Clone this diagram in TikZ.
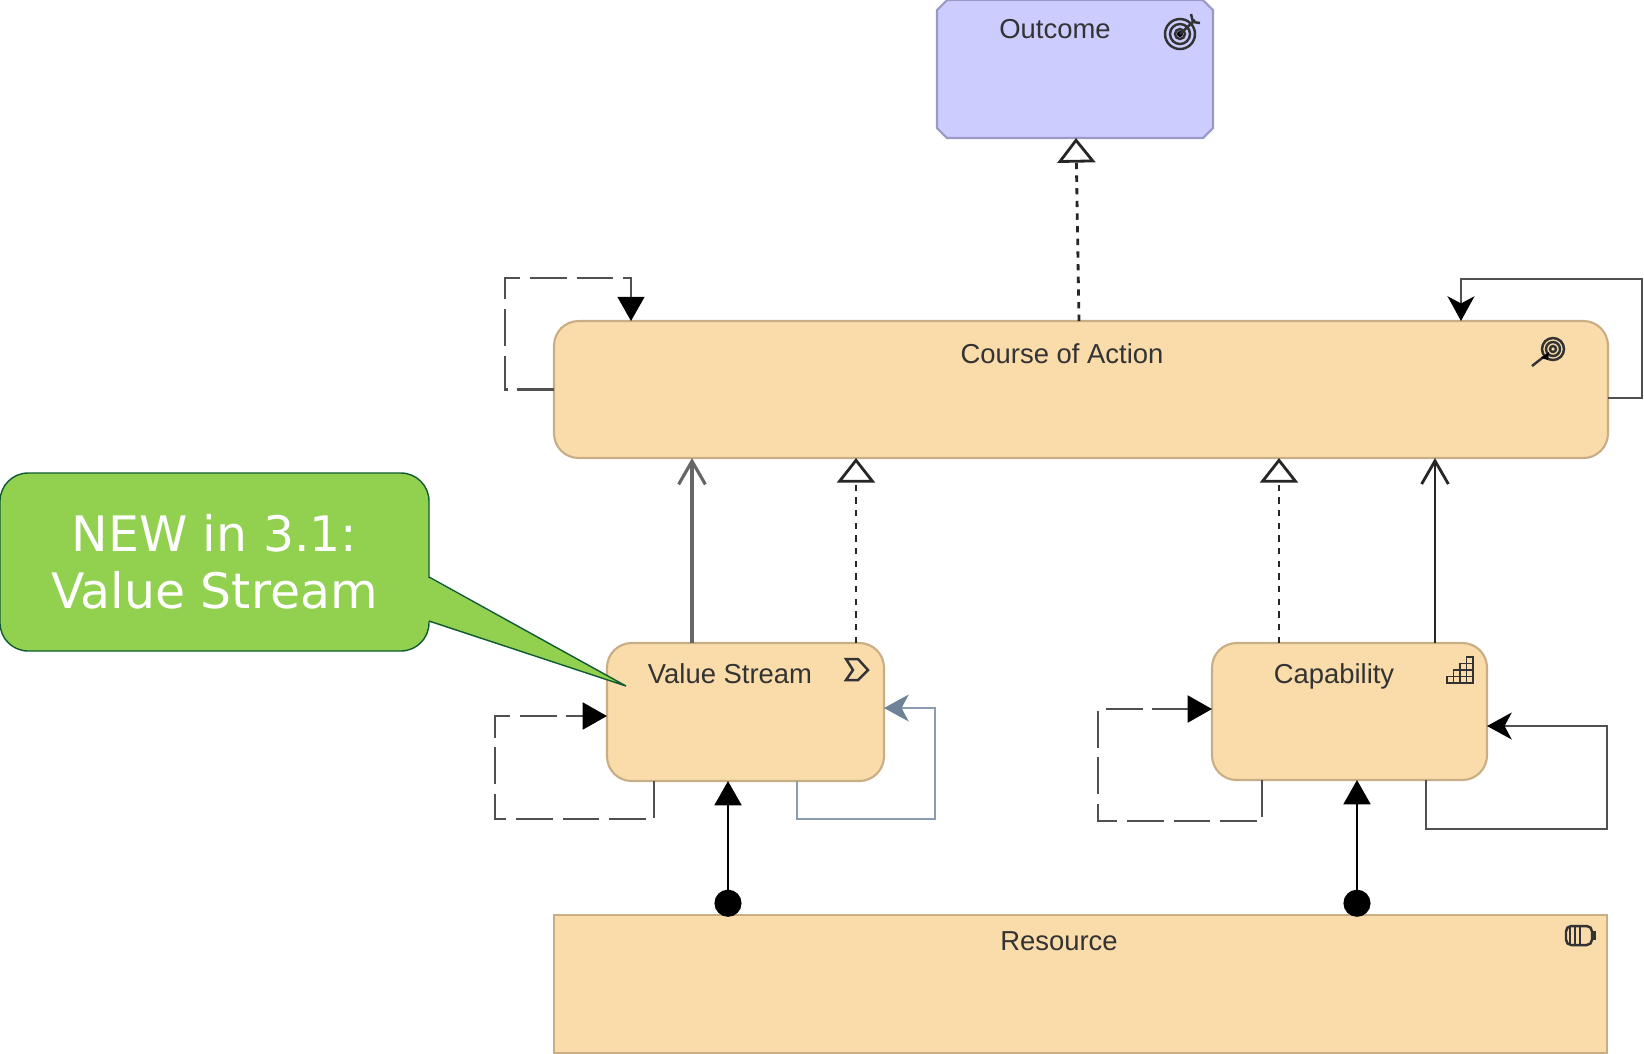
\documentclass[tikz,border=0pt]{standalone}
\usepackage{fontspec}
\setmainfont{Liberation Sans}
\newfontfamily\notefont{DejaVu Sans}
\usetikzlibrary{arrows.meta}
\definecolor{coreFill}{HTML}{F9DCAA}
\definecolor{coreLine}{HTML}{C9AD84}
\definecolor{goalFill}{HTML}{CCCCFF}
\definecolor{goalLine}{HTML}{9A9AC6}
\definecolor{noteFill}{HTML}{92D050}
\definecolor{noteLine}{HTML}{0F5A32}
\definecolor{loopBlue}{HTML}{8A9CB0}
\definecolor{tipBlue}{HTML}{6E8398}
\definecolor{wireGray}{HTML}{505050}
\tikzset{
	box/.style={draw=coreLine, fill=coreFill, line width=0.6pt, outer sep=0pt, inner sep=0pt},
	corebox/.style={box, rounded corners=7pt},
	title/.style={font=\fontsize{7.8}{9.5}\selectfont, text=black!80, inner sep=0pt, text height=0.72em, text depth=0.22em},
	wire/.style={line width=0.8pt, draw=wireGray},
	dashwire/.style={wire, dash pattern=on 10.4pt off 2.8pt},
	dotwire/.style={wire, draw=black!85, dash pattern=on 1.8pt off 1.8pt},
	realize/.style={-{Triangle[open, fill=white, length=7pt, width=10.8pt]}},
	serve/.style={-{Straight Barb[length=6.6pt, width=7.6pt]}},
	assign/.style={{Circle[length=7.7pt]}-{Triangle[length=6.9pt, width=7.6pt]}, draw=black, line width=0.8pt, shorten <=-0.5pt},
	flow/.style={-{Triangle[length=6.9pt, width=7.6pt, color=black]}},
	trigger/.style={-{Stealth[length=7pt, width=7.6pt, inset=2pt, color=black]}},
	icon/.style={line width=0.7pt, draw=black!80}
}
\begin{document}
\begin{tikzpicture}[x=0.01cm, y=-0.01cm]
	\useasboundingbox (0,0) rectangle (1644,1053);
	% Boxes
	\node[minimum width=276*0.01cm, minimum height=138*0.01cm, outer sep=0pt, inner sep=0pt] (outcome) at (1075,69) {};
	\draw[draw=goalLine, fill=goalFill, line width=0.6pt] (947,0) -- (1203,0) -- (1213,10) -- (1213,128) -- (1203,138) -- (947,138) -- (937,128) -- (937,10) -- cycle;
	\node[corebox, minimum width=1054*0.01cm, minimum height=137*0.01cm] (coa) at (1081,389.5) {};
	\node[corebox, minimum width=277*0.01cm, minimum height=138*0.01cm] (stream) at (745.5,712) {};
	\node[corebox, minimum width=275*0.01cm, minimum height=137*0.01cm] (capability) at (1349.5,711.5) {};
	\node[box, minimum width=1053*0.01cm, minimum height=138*0.01cm] (resource) at (1080.5,984) {};
	% Titles
	\node[title] (outcomeTitle) at (1055,30) {Outcome};
	\node[title] (coaTitle) at (1062,355) {Course of Action};
	\node[title] (streamTitle) at (730,675) {Value Stream};
	\node[title] (capabilityTitle) at (1334,675) {Capability};
	\node[title] (resourceTitle) at (1059,942) {Resource};
	% Realization upwards
	\draw[dotwire, realize] (coa.north -| 1079,0) -- (outcome.south -| 1076,0);
	\draw[dotwire, realize] (stream.north -| 856,0) -- (coa.south -| 856,0);
	\draw[dotwire, realize] (capability.north -| 1279,0) -- (coa.south -| 1279,0);
	% Serving upwards
	\draw[wire, draw=black!60, line width=0.9pt, serve] (stream.north -| 692,0) -- (coa.south -| 692,0);
	\draw[wire, draw=black!85, serve] (capability.north -| 1435,0) -- (coa.south -| 1435,0);
	% Assignment from resource
	\draw[wire, assign] (resource.north -| 728,0) -- (stream.south -| 728,0);
	\draw[wire, assign] (resource.north -| 1357,0) -- (capability.south -| 1357,0);
	% Loops on course of action
	\draw[dashwire, flow] (coa.west) -- (505,389.5) -- (505,278) -- (631,278) -- (coa.north -| 631,0);
	\draw[wire, trigger] (coa.east |- 0,398) -- (1642,398) -- (1642,279) -- (1461,279) -- (coa.north -| 1461,0);
	% Loops on value stream
	\draw[dashwire, flow] (stream.south -| 654,0) -- (654,819) -- (495,819) -- (495,716) -- (stream.west |- 0,716);
	\draw[wire, draw=loopBlue, -{Stealth[length=7pt, width=7.6pt, inset=2pt, color=tipBlue]}] (stream.south -| 797,0) -- (797,819) -- (935,819) -- (935,708) -- (stream.east |- 0,708);
	% Loops on capability
	\draw[dashwire, flow] (capability.south -| 1262,0) -- (1262,821) -- (1098,821) -- (1098,709) -- (capability.west |- 0,709);
	\draw[wire, trigger] (capability.south -| 1426,0) -- (1426,829) -- (1607,829) -- (1607,726) -- (capability.east |- 0,726);
	% Icons
	\foreach \r in {15,10,5} {
		\draw[icon] (1180,34) circle (\r*0.01cm);
	}
	\fill[black] (1180,34) circle (0.03cm);
	\draw[icon] (1180,34) -- (1195,20) (1191,14) -- (1193,22) -- (1200,23);
	\foreach \r in {11,7,3} {
		\draw[icon] (1553,349) circle (\r*0.01cm);
	}
	\draw[icon] (1532,366) -- (1546,355);
	\fill[black] (1549,352) -- (1548,360) -- (1541,358) -- cycle;
	\draw[icon] (846,659) -- (858,659) -- (868,670) -- (858,680) -- (846,680) -- (853,670) -- cycle;
	\foreach \c in {0,1,2,3} {
		\foreach \h in {0,...,\c} {
			\draw[icon, line width=0.5pt] (1447+6.5*\c,683-6.5*\h) rectangle +(6.5,-6.5);
		}
	}
	\draw[icon, rounded corners=1.5pt] (1566,926) rectangle (1592,945);
	\fill[black!80] (1592,931) rectangle (1596,940);
	\foreach \b in {1570,1575,1580} {
		\draw[icon] (\b,926) -- (\b,945);
	}
	% Note
	\node[draw=noteLine, fill=noteFill, line width=0.4pt, rounded corners=8pt, minimum width=429*0.01cm, minimum height=178*0.01cm, outer sep=0pt, inner sep=0pt, align=center, text=white, font=\notefont\fontsize{13.9}{16.2}\selectfont] (note) at (214.5,562) {NEW in 3.1:\\Value Stream};
	\coordinate (noteTip) at (626,686);
	\fill[noteFill] (427,577) -- (noteTip) -- (427,621) -- cycle;
	\draw[noteLine, line width=0.4pt] (note.east |- 0,577) -- (noteTip) -- (note.east |- 0,621);
\end{tikzpicture}
\end{document}
